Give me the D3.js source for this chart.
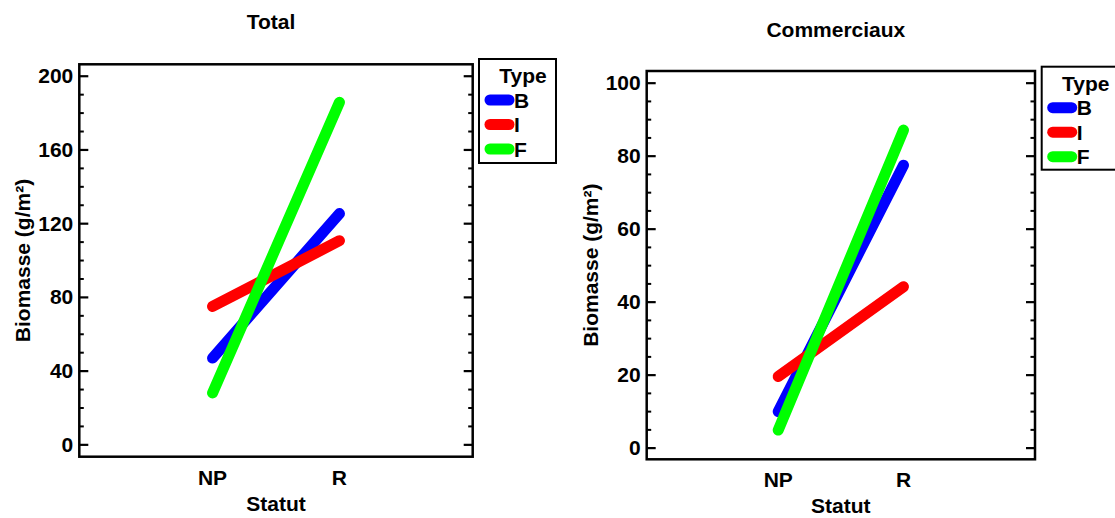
<!DOCTYPE html>
<html>
<head>
<meta charset="utf-8">
<script src="https://cdn.jsdelivr.net/npm/d3@7/dist/d3.min.js"></script>
<style>
  html, body { margin: 0; padding: 0; background: #fff; }
  svg { display: block; }
  text { font-family: "Liberation Sans", Arial, sans-serif; font-weight: bold; fill: #000; }
</style>
</head>
<body>
<svg id="chart" width="1115" height="518"></svg>
<script>
// Categories and series
const statuts = ["NP", "R"];
const types = ["B", "I", "F"];
const typeColors = ["#0000ff", "#ff0000", "#00ff00"];

// Mean biomass (g/m²) per type, for NP and R
const totalB = [46.8, 125.2];
const totalI = [74.8, 110.5];
const totalF = [27.9, 185.6];

const commB = [9.9, 77.4];
const commI = [19.5, 44.1];
const commF = [4.8, 87.0];

// Axis ticks
const totalTicks = [0, 40, 80, 120, 160, 200];
const commTicks = [0, 20, 40, 60, 80, 100];

const panels = [
  {
    title: "Total", series: [totalB, totalI, totalF], ticks: totalTicks, minorStep: 10,
    yDomain: [-6.7, 206.2],
    frame: { x0: 79.3, x1: 472.7, y0: 64.3, y1: 456.7 },
    titleY: 29, titleDx: -5, yLabelX: 30,
    legend: { x: 479, y: 59, w: 77, h: 104 }
  },
  {
    title: "Commerciaux", series: [commB, commI, commF], ticks: commTicks, minorStep: 5,
    yDomain: [-3.2, 103.2],
    frame: { x0: 646.7, x1: 1035, y0: 71, y1: 459.3 },
    titleY: 37, titleDx: -5, yLabelX: 598,
    legend: { x: 1041.7, y: 66.7, w: 80, h: 103 }
  }
];

const FS = "21px";
const svg = d3.select("#chart");

panels.forEach(p => {
  const f = p.frame;
  const g = svg.append("g");

  const x = d3.scaleLinear().domain([-1.05, 2.05]).range([f.x0, f.x1]);
  const y = d3.scaleLinear().domain(p.yDomain).range([f.y1, f.y0]);

  // Title
  g.append("text")
    .attr("x", (f.x0 + f.x1) / 2 + p.titleDx)
    .attr("y", p.titleY)
    .attr("text-anchor", "middle")
    .style("font-size", FS)
    .text(p.title);

  // Minor tick values
  const minor = d3.range(0, p.ticks[p.ticks.length - 1] + 0.001, p.minorStep)
    .filter(v => !p.ticks.includes(v));

  // Left axis, ticks pointing inward
  g.append("g").attr("transform", `translate(${f.x0},0)`)
    .call(d3.axisRight(y).tickValues(p.ticks).tickSize(9).tickFormat(""))
    .call(s => s.select(".domain").remove())
    .call(s => s.selectAll("line").attr("stroke-width", 2.2));
  g.append("g").attr("transform", `translate(${f.x0},0)`)
    .call(d3.axisRight(y).tickValues(minor).tickSize(4.5).tickFormat(""))
    .call(s => s.select(".domain").remove())
    .call(s => s.selectAll("line").attr("stroke-width", 2));

  // Right axis, ticks pointing inward
  g.append("g").attr("transform", `translate(${f.x1},0)`)
    .call(d3.axisLeft(y).tickValues(p.ticks).tickSize(9).tickFormat(""))
    .call(s => s.select(".domain").remove())
    .call(s => s.selectAll("line").attr("stroke-width", 2.2));
  g.append("g").attr("transform", `translate(${f.x1},0)`)
    .call(d3.axisLeft(y).tickValues(minor).tickSize(4.5).tickFormat(""))
    .call(s => s.select(".domain").remove())
    .call(s => s.selectAll("line").attr("stroke-width", 2));

  // Y tick labels
  g.append("g").selectAll("text").data(p.ticks).join("text")
    .attr("x", f.x0 - 6)
    .attr("y", d => y(d))
    .attr("dy", "0.36em")
    .attr("text-anchor", "end")
    .style("font-size", FS)
    .text(d => d);

  // Frame
  g.append("rect")
    .attr("x", f.x0).attr("y", f.y0)
    .attr("width", f.x1 - f.x0).attr("height", f.y1 - f.y0)
    .attr("fill", "none").attr("stroke", "#000").attr("stroke-width", 2.5);

  // X category labels
  g.append("g").selectAll("text").data(statuts).join("text")
    .attr("x", (d, i) => x(i))
    .attr("y", f.y1 + 28)
    .attr("text-anchor", "middle")
    .style("font-size", FS)
    .text(d => d);

  // X axis title
  g.append("text")
    .attr("x", (f.x0 + f.x1) / 2)
    .attr("y", f.y1 + 54)
    .attr("text-anchor", "middle")
    .style("font-size", FS)
    .text("Statut");

  // Y axis title
  g.append("text")
    .attr("transform", `translate(${p.yLabelX},${(f.y0 + f.y1) / 2}) rotate(-90)`)
    .attr("text-anchor", "middle")
    .style("font-size", FS)
    .text("Biomasse (g/m²)");

  // Interaction lines
  const line = d3.line().x((d, i) => x(i)).y(d => y(d));
  p.series.forEach((s, k) => {
    g.append("path")
      .datum(s)
      .attr("d", line)
      .attr("fill", "none")
      .attr("stroke", typeColors[k])
      .attr("stroke-width", 11)
      .attr("stroke-linecap", "round");
  });

  // Legend
  const L = p.legend;
  const lg = g.append("g");
  lg.append("rect")
    .attr("x", L.x).attr("y", L.y).attr("width", L.w).attr("height", L.h)
    .attr("fill", "#fff").attr("stroke", "#000").attr("stroke-width", 2);
  lg.append("text")
    .attr("x", L.x + 44).attr("y", L.y + 24)
    .attr("text-anchor", "middle")
    .style("font-size", FS)
    .text("Type");
  types.forEach((t, k) => {
    const cy = L.y + 41 + k * 24.5;
    lg.append("line")
      .attr("x1", L.x + 11).attr("x2", L.x + 30)
      .attr("y1", cy).attr("y2", cy)
      .attr("stroke", typeColors[k]).attr("stroke-width", 11)
      .attr("stroke-linecap", "round");
    lg.append("text")
      .attr("x", L.x + 35).attr("y", cy)
      .attr("dy", "0.36em")
      .style("font-size", FS)
      .text(t);
  });
});
</script>
</body>
</html>
